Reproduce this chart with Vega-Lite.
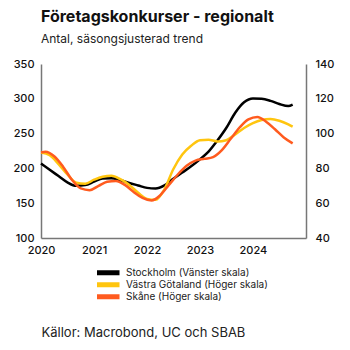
{
  "$schema": "https://vega.github.io/schema/vega-lite/v6.json",
  "width": 265,
  "height": 174,
  "autosize": {"type": "none"},
  "padding": {"left": 41, "top": 64, "right": 44, "bottom": 112},
  "background": "white",
  "config": {
    "font": "Inter",
    "view": {"stroke": null},
    "axis": {"grid": false, "ticks": false, "domain": true, "domainColor": "#777777", "domainWidth": 1.5, "labelFontSize": 11, "labelColor": "#111111", "labelFontWeight": 500, "labelOverlap": false}
  },
  "title": {
    "text": "Företagskonkurser - regionalt",
    "subtitle": "Antal, säsongsjusterad trend",
    "anchor": "start",
    "frame": "group",
    "fontSize": 16,
    "fontWeight": "bold",
    "color": "#111111",
    "subtitleFontSize": 12,
    "subtitleColor": "#222222",
    "subtitlePadding": 9,
    "offset": 13
  },
  "datasets": {
    "stockholm": [
      {"date": "2020-01-01", "value": 207},
      {"date": "2020-03-01", "value": 198},
      {"date": "2020-05-01", "value": 189},
      {"date": "2020-07-01", "value": 180},
      {"date": "2020-09-01", "value": 175},
      {"date": "2020-11-01", "value": 176},
      {"date": "2021-01-01", "value": 181},
      {"date": "2021-03-01", "value": 185.5},
      {"date": "2021-05-01", "value": 186},
      {"date": "2021-07-01", "value": 183},
      {"date": "2021-09-01", "value": 179},
      {"date": "2021-11-01", "value": 175.5},
      {"date": "2022-01-01", "value": 172},
      {"date": "2022-03-01", "value": 171},
      {"date": "2022-05-01", "value": 175.5},
      {"date": "2022-07-01", "value": 185},
      {"date": "2022-09-01", "value": 194},
      {"date": "2022-11-01", "value": 203},
      {"date": "2023-01-01", "value": 213},
      {"date": "2023-03-01", "value": 224},
      {"date": "2023-05-01", "value": 240},
      {"date": "2023-07-01", "value": 258},
      {"date": "2023-09-01", "value": 280},
      {"date": "2023-11-01", "value": 295},
      {"date": "2024-01-01", "value": 300.5},
      {"date": "2024-03-01", "value": 300},
      {"date": "2024-05-01", "value": 297},
      {"date": "2024-07-01", "value": 292.5},
      {"date": "2024-09-01", "value": 289.5},
      {"date": "2024-10-01", "value": 291.5}
    ],
    "vastra": [
      {"date": "2020-01-01", "value": 89.2},
      {"date": "2020-03-01", "value": 87.6},
      {"date": "2020-05-01", "value": 82.5},
      {"date": "2020-07-01", "value": 76.5},
      {"date": "2020-09-01", "value": 71.8},
      {"date": "2020-11-01", "value": 71.2},
      {"date": "2021-01-01", "value": 73.5},
      {"date": "2021-03-01", "value": 75.2},
      {"date": "2021-05-01", "value": 75.8},
      {"date": "2021-07-01", "value": 73.8},
      {"date": "2021-09-01", "value": 70.5},
      {"date": "2021-11-01", "value": 66},
      {"date": "2022-01-01", "value": 62.5},
      {"date": "2022-03-01", "value": 62},
      {"date": "2022-05-01", "value": 68},
      {"date": "2022-07-01", "value": 79.5},
      {"date": "2022-09-01", "value": 88},
      {"date": "2022-11-01", "value": 93},
      {"date": "2023-01-01", "value": 96.2},
      {"date": "2023-03-01", "value": 96.5},
      {"date": "2023-05-01", "value": 95.5},
      {"date": "2023-07-01", "value": 96.2},
      {"date": "2023-09-01", "value": 99.5},
      {"date": "2023-11-01", "value": 103.2},
      {"date": "2024-01-01", "value": 106},
      {"date": "2024-03-01", "value": 107.8},
      {"date": "2024-05-01", "value": 108.4},
      {"date": "2024-07-01", "value": 107.4},
      {"date": "2024-09-01", "value": 105.3},
      {"date": "2024-10-01", "value": 104}
    ],
    "skane": [
      {"date": "2020-01-01", "value": 89.2},
      {"date": "2020-02-01", "value": 89.6},
      {"date": "2020-04-01", "value": 87},
      {"date": "2020-06-01", "value": 81},
      {"date": "2020-08-01", "value": 73.5},
      {"date": "2020-10-01", "value": 68.5},
      {"date": "2020-12-01", "value": 67.5},
      {"date": "2021-02-01", "value": 70},
      {"date": "2021-04-01", "value": 72.3},
      {"date": "2021-06-01", "value": 72.8},
      {"date": "2021-08-01", "value": 70.5},
      {"date": "2021-10-01", "value": 66.5},
      {"date": "2021-12-01", "value": 63},
      {"date": "2022-02-01", "value": 61.6},
      {"date": "2022-04-01", "value": 64.5},
      {"date": "2022-06-01", "value": 70.5},
      {"date": "2022-08-01", "value": 76.5},
      {"date": "2022-10-01", "value": 81.5},
      {"date": "2022-12-01", "value": 84.5},
      {"date": "2023-02-01", "value": 85.5},
      {"date": "2023-04-01", "value": 86.5},
      {"date": "2023-06-01", "value": 90.5},
      {"date": "2023-08-01", "value": 97},
      {"date": "2023-10-01", "value": 103.5},
      {"date": "2023-12-01", "value": 108.2},
      {"date": "2024-02-01", "value": 109.6},
      {"date": "2024-04-01", "value": 106.8},
      {"date": "2024-06-01", "value": 102.5},
      {"date": "2024-08-01", "value": 97.8},
      {"date": "2024-10-01", "value": 94.4}
    ]
  },
  "layer": [
    {
      "data": {"name": "stockholm"},
      "mark": {"type": "line", "strokeWidth": 2.5, "interpolate": "monotone"},
      "encoding": {
        "x": {
          "field": "date", "type": "temporal",
          "scale": {"domain": [{"year": 2020, "month": 1, "date": 1}, {"year": 2025, "month": 1, "date": 1}]},
          "axis": {
            "values": [{"year": 2020, "month": 1, "date": 1}, {"year": 2021, "month": 1, "date": 1}, {"year": 2022, "month": 1, "date": 1}, {"year": 2023, "month": 1, "date": 1}, {"year": 2024, "month": 1, "date": 1}],
            "format": "%Y", "labelFlush": false, "labelPadding": 6,
            "title": "Källor: Macrobond, UC och SBAB",
            "titleAnchor": "start", "titleAlign": "left", "titleFontSize": 13, "titleFontWeight": "normal", "titleColor": "#222222", "titlePadding": 71
          }
        },
        "y": {
          "field": "value", "type": "quantitative",
          "scale": {"domain": [100, 350], "nice": false, "zero": false},
          "axis": {"values": [100, 150, 200, 250, 300, 350], "title": null, "labelPadding": 7}
        },
        "color": {"datum": "Stockholm (Vänster skala)", "type": "nominal"}
      }
    },
    {
      "encoding": {
        "x": {"field": "date", "type": "temporal"},
        "y": {
          "field": "value", "type": "quantitative",
          "scale": {"domain": [40, 140], "nice": false, "zero": false},
          "axis": {"orient": "right", "domain": true, "labelOverlap": false, "values": [40, 60, 80, 100, 120, 140], "title": null, "labelPadding": 9}
        }
      },
      "layer": [
        {
          "data": {"name": "vastra"},
          "mark": {"type": "line", "strokeWidth": 2.5, "interpolate": "monotone"},
          "encoding": {
            "color": {"datum": "Västra Götaland (Höger skala)", "type": "nominal"}
          }
        },
        {
          "data": {"name": "skane"},
          "mark": {"type": "line", "strokeWidth": 2.5, "interpolate": "monotone"},
          "encoding": {
            "color": {"datum": "Skåne (Höger skala)", "type": "nominal"}
          }
        }
      ]
    }
  ],
  "resolve": {"scale": {"y": "independent"}},
  "encoding": {
    "color": {
      "type": "nominal",
      "scale": {
        "domain": ["Stockholm (Vänster skala)", "Västra Götaland (Höger skala)", "Skåne (Höger skala)"],
        "range": ["#000000", "#FFC50F", "#FF5B1F"]
      },
      "legend": {
        "orient": "none", "legendX": 56, "legendY": 203, "title": null,
        "direction": "vertical",
        "symbolType": "M-3,0H3", "symbolSize": 100, "symbolStrokeWidth": 5,
        "clipHeight": 11.5,
        "labelFontSize": 10, "labelColor": "#222222", "labelOffset": 14, "rowPadding": 0
      }
    }
  }
}
